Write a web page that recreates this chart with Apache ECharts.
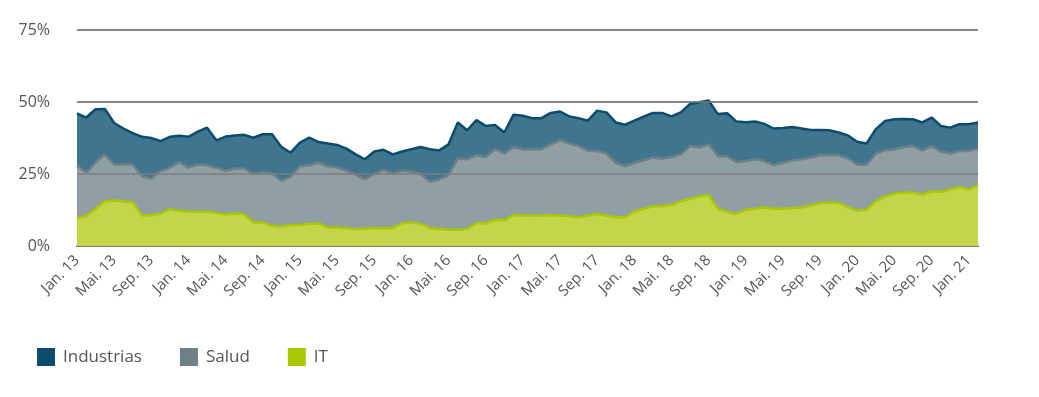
<!DOCTYPE html>
<html>
<head>
<meta charset="utf-8">
<script src="https://cdn.jsdelivr.net/npm/echarts@6/dist/echarts.min.js"></script>
<style>
  html, body { margin: 0; padding: 0; background: #fff; }
  #chart { width: 1039px; height: 397px; }
</style>
</head>
<body>
<div id="chart"></div>
<script>
// monthly categories, Jan 13 .. Feb 21
const months = [
  'Jan. 13','Feb. 13','Mär. 13','Apr. 13','Mai. 13','Jun. 13','Jul. 13','Aug. 13','Sep. 13','Okt. 13','Nov. 13','Dez. 13',
  'Jan. 14','Feb. 14','Mär. 14','Apr. 14','Mai. 14','Jun. 14','Jul. 14','Aug. 14','Sep. 14','Okt. 14','Nov. 14','Dez. 14',
  'Jan. 15','Feb. 15','Mär. 15','Apr. 15','Mai. 15','Jun. 15','Jul. 15','Aug. 15','Sep. 15','Okt. 15','Nov. 15','Dez. 15',
  'Jan. 16','Feb. 16','Mär. 16','Apr. 16','Mai. 16','Jun. 16','Jul. 16','Aug. 16','Sep. 16','Okt. 16','Nov. 16','Dez. 16',
  'Jan. 17','Feb. 17','Mär. 17','Apr. 17','Mai. 17','Jun. 17','Jul. 17','Aug. 17','Sep. 17','Okt. 17','Nov. 17','Dez. 17',
  'Jan. 18','Feb. 18','Mär. 18','Apr. 18','Mai. 18','Jun. 18','Jul. 18','Aug. 18','Sep. 18','Okt. 18','Nov. 18','Dez. 18',
  'Jan. 19','Feb. 19','Mär. 19','Apr. 19','Mai. 19','Jun. 19','Jul. 19','Aug. 19','Sep. 19','Okt. 19','Nov. 19','Dez. 19',
  'Jan. 20','Feb. 20','Mär. 20','Apr. 20','Mai. 20','Jun. 20','Jul. 20','Aug. 20','Sep. 20','Okt. 20','Nov. 20','Dez. 20',
  'Jan. 21','Feb. 21'
];

// stacked shares in %, bottom to top
const itValues = [
  9.7, 10.3, 12.9, 15.5, 15.8, 15.5, 15.1, 10.6, 10.8, 11.2, 12.8, 12.2,
  11.9, 11.9, 11.9, 11.5, 10.9, 11.3, 11.0, 8.2, 8.2, 7.0, 6.8, 7.3,
  7.3, 7.6, 7.9, 6.4, 6.4, 6.2, 5.8, 6.0, 6.2, 6.2, 6.2, 7.9,
  8.2, 7.6, 6.2, 5.9, 5.6, 5.6, 5.9, 7.9, 7.9, 9.1, 8.9, 10.8,
  10.6, 10.6, 10.6, 10.8, 10.6, 10.3, 10.0, 10.6, 11.1, 10.6, 10.0, 10.0,
  12.0, 12.9, 13.8, 13.8, 14.3, 15.5, 16.4, 17.2, 17.8, 12.9, 11.8, 11.1,
  12.6, 12.9, 13.4, 12.9, 12.9, 13.2, 13.4, 14.0, 14.9, 15.1, 14.9, 13.5,
  12.2, 12.6, 15.5, 17.2, 18.2, 18.6, 18.6, 17.8, 19.0, 18.8, 19.6, 20.4,
  19.6, 21.1
];
const saludValues = [
  18.2, 15.1, 16.0, 16.3, 12.5, 12.8, 13.2, 13.6, 12.6, 14.8, 14.4, 16.9,
  15.3, 16.4, 16.1, 15.7, 15.2, 15.6, 15.9, 16.8, 17.4, 18.2, 15.9, 16.7,
  20.4, 20.4, 21.0, 21.3, 20.9, 20.0, 19.0, 17.2, 18.8, 20.3, 18.9, 18.3,
  17.6, 17.5, 16.1, 17.2, 19.0, 24.8, 24.2, 23.6, 23.0, 24.5, 23.2, 23.6,
  23.0, 23.0, 23.0, 24.5, 26.1, 25.3, 24.7, 22.4, 21.9, 21.5, 18.9, 17.7,
  16.9, 16.9, 16.9, 16.5, 16.6, 16.3, 18.3, 17.0, 17.5, 18.3, 19.4, 18.0,
  16.9, 17.2, 16.1, 15.2, 16.0, 16.5, 16.7, 16.7, 16.6, 16.5, 16.6, 16.9,
  16.1, 15.5, 16.6, 16.0, 15.4, 15.8, 16.1, 15.4, 15.7, 14.0, 12.5, 12.6,
  13.4, 12.7
];
const industriasValues = [
  18.1, 19.2, 18.6, 15.8, 14.4, 12.5, 10.9, 13.7, 14.1, 10.4, 10.7, 9.2,
  10.7, 11.4, 13.1, 9.5, 11.9, 11.5, 11.7, 12.6, 13.2, 13.6, 11.7, 8.4,
  8.2, 9.6, 7.2, 7.9, 7.8, 7.6, 7.0, 6.9, 7.8, 6.9, 6.7, 6.6,
  7.8, 9.3, 11.3, 10.1, 10.7, 12.5, 10.1, 12.2, 10.8, 8.4, 7.3, 11.2,
  11.6, 10.8, 10.8, 10.9, 10.0, 9.4, 9.7, 10.5, 14.0, 14.3, 14.0, 14.4,
  14.6, 15.1, 15.5, 15.9, 14.1, 14.6, 14.6, 15.7, 15.2, 14.6, 14.9, 14.1,
  13.5, 13.1, 12.9, 12.7, 12.1, 11.6, 10.7, 9.6, 8.8, 8.6, 7.9, 8.0,
  7.9, 7.5, 8.5, 10.2, 10.4, 9.7, 9.3, 9.7, 9.9, 8.9, 9.0, 9.3,
  9.3, 9.1
];
const yTicks = [25, 50, 75];

const FONT = '"Open Sans", "DejaVu Sans", sans-serif';
const TEXT = '#555555';

const chart = echarts.init(document.getElementById('chart'), null, { renderer: 'canvas' });

const areaSeries = (name, data, line, fill) => ({
  name,
  type: 'line',
  stack: 'total',
  data,
  symbol: 'none',
  smooth: false,
  lineStyle: { color: line, width: 2.5 },
  itemStyle: { color: line },
  areaStyle: { color: fill, opacity: 1 },
  emphasis: { disabled: true },
  z: 2
});

chart.setOption({
  animation: false,
  textStyle: { fontFamily: FONT },
  grid: { left: 77, right: 61, top: 30, bottom: 151, containLabel: false },
  legend: {
    left: 32,
    top: 343,
    icon: 'rect',
    itemWidth: 18,
    itemHeight: 18,
    itemGap: 38,
    data: ['Industrias', 'Salud', 'IT'],
    textStyle: { fontFamily: FONT, fontSize: 17, color: TEXT, padding: [0, 0, 0, 3] }
  },
  xAxis: {
    type: 'category',
    data: months,
    boundaryGap: false,
    axisLine: { lineStyle: { color: '#7a7a7a', width: 2 } },
    axisTick: { show: false },
    axisLabel: {
      interval: 3,
      rotate: 45,
      margin: 12,
      color: TEXT,
      fontSize: 15,
      fontFamily: FONT
    },
    splitLine: { show: false }
  },
  yAxis: {
    type: 'value',
    min: 0,
    max: 75,
    interval: 25,
    axisLine: { show: false },
    axisTick: { show: false },
    axisLabel: {
      formatter: '{value}%',
      color: TEXT,
      fontSize: 16,
      margin: 27,
      fontFamily: FONT
    },
    splitLine: { lineStyle: { color: '#8a8a8a', width: 1.5 } }
  },
  series: [
    areaSeries('IT', itValues, '#aac800', '#c3d64a'),
    areaSeries('Salud', saludValues, '#6d8087', '#8f9fa4'),
    areaSeries('Industrias', industriasValues, '#0b4b6c', '#40758f'),
    {
      // grid lines drawn over the areas
      name: 'grid',
      type: 'line',
      data: [],
      z: 5,
      silent: true,
      markLine: {
        silent: true,
        symbol: 'none',
        label: { show: false },
        lineStyle: { color: '#7d7d7d', width: 1.5, type: 'solid' },
        data: yTicks.map(v => ({ yAxis: v }))
      }
    }
  ]
});
</script>
</body>
</html>
